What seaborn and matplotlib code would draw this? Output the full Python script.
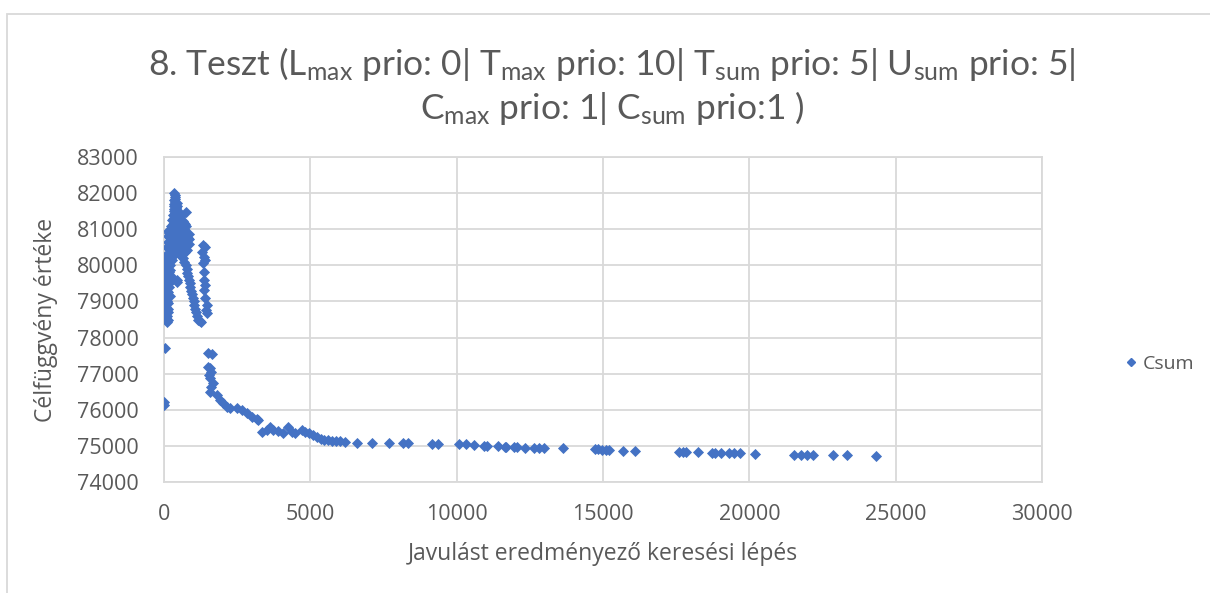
import numpy as np
import pandas as pd
import seaborn as sns
import matplotlib.pyplot as plt
from matplotlib.lines import Line2D

# Csum values (lépés, célfüggvény érték)
# dense start cluster: top spike
spike_x = [352, 360, 340, 380, 350, 400, 330, 420, 370, 300, 450, 350, 280, 500, 400, 250, 550,
           380, 450, 360, 420, 350, 430, 340, 420, 500, 330, 410, 490, 570, 320, 400, 480, 560, 640,
           300, 380, 460, 540, 620, 680, 280, 350, 420, 490, 560, 630, 700, 740, 720, 760]
spike_y = [82000, 81900, 81800, 81750, 81650, 81600, 81550, 81500, 81450, 81400, 81350, 81300, 81250, 81200, 81150, 81100, 81050,
           81960, 81720, 81850, 81620, 81700, 81640, 81500, 81520, 81480, 81400, 81380, 81420, 81360, 81280, 81250, 81300, 81260, 81230,
           81150, 81200, 81130, 81180, 81120, 81160, 81050, 81080, 81020, 81060, 81010, 81040, 81000, 81480, 81150, 81090]

# dense block
block_x = [120, 180, 240, 300, 360, 420, 480, 540, 600, 660, 720, 780, 840,
           150, 210, 270, 330, 390, 450, 510, 570, 630, 690, 750, 810, 870,
           130, 190, 250, 310, 370, 430, 490, 550, 610, 670, 730, 790, 850,
           110, 170, 230, 290, 350, 410, 470, 530, 590, 650, 710, 770,
           200, 260, 320, 380, 440, 500, 560]
block_y = [80950, 80900, 80980, 80920, 80960, 80900, 80950, 80880, 80930, 80870, 80900, 80850, 80880,
           80800, 80750, 80820, 80780, 80740, 80800, 80760, 80720, 80790, 80740, 80700, 80760, 80720,
           80650, 80600, 80680, 80620, 80660, 80600, 80640, 80580, 80620, 80560, 80600, 80550, 80580,
           80500, 80460, 80520, 80440, 80490, 80450, 80420, 80470, 80400, 80430, 80380, 80420,
           80350, 80300, 80380, 80320, 80360, 80330, 80300]

# left column near zero
left_x = [20, 80, 150, 40, 110, 200, 10, 70, 140, 30, 100, 180, 0, 60, 130, 250, 20, 90, 160,
          40, 110, 10, 70, 140, 30, 100, 0, 60, 120, 80, 150, 100, 130, 110, 430, 450,
          220, 280, 190, 240, 170, 210, 150, 60, 20]
left_y = [80250, 80200, 80230, 80100, 80050, 80120, 79950, 79900, 79980, 79800, 79750, 79820, 79650, 79600, 79660, 79700, 79500, 79450, 79520,
          79350, 79300, 79200, 79150, 79250, 79050, 79000, 78900, 78850, 78950, 78750, 78700, 78600, 78500, 78420, 79600, 79550,
          80000, 80150, 79880, 79580, 79400, 79150, 78800, 78550, 78700]

# descending branch
desc_x = [600, 650, 700, 740, 780, 800, 830, 860, 880, 900, 930, 960, 990, 1010, 1040, 1070, 1100, 1130, 1170, 1220, 1280]
desc_y = [80300, 80200, 80100, 80000, 79900, 79800, 79700, 79600, 79500, 79400, 79300, 79200, 79100, 79000, 78900, 78800, 78700, 78600, 78500, 78450, 78430]

# right column around 1300-1500
right_x = [1322, 1401, 1288, 1350, 1401, 1322, 1370, 1350, 1401, 1350, 1401, 1459, 1440, 1481]
right_y = [80563, 80499, 80378, 80240, 80148, 80056, 79825, 79594, 79455, 79317, 79086, 78901, 78763, 78670]

# lone points at the start
lone_x = [24, 0, 10]
lone_y = [77700, 76225, 76130]

# second drop and long tail
tail_x = [1515, 1630, 1500, 1560, 1600, 1540, 1580, 1660, 1620, 1560,
          1800, 1914, 2027, 2142, 2256, 2484, 2655, 2826, 2997, 3168, 3224,
          3340, 3510, 3623, 3737, 3908, 4079, 4250, 4364, 4477,
          4700, 4830, 4960, 5090, 5220, 5350, 5480, 5620, 5750, 5880, 6010, 6180,
          6600, 7090, 7680, 8170, 8340, 9150, 9370, 10070, 10330, 10590, 10920, 11050,
          11400, 11640, 11700, 11960, 12070, 12320, 12640, 12810, 12980, 13630,
          14710, 14840, 14970, 15100, 15210, 15670, 16090, 17590, 17720, 17850, 18250,
          18740, 18840, 19030, 19290, 19490, 19690, 20180, 21520, 21780, 21980, 22170,
          22870, 23350, 24330]
tail_y = [77560, 77540, 77193, 77147, 77055, 76963, 76870, 76732, 76640, 76500,
          76409, 76270, 76180, 76085, 76060, 76040, 75994, 75900, 75810, 75740, 75717,
          75393, 75440, 75532, 75450, 75405, 75367, 75532, 75393, 75367,
          75430, 75380, 75350, 75300, 75240, 75190, 75170, 75150, 75140, 75130, 75130, 75110,
          75080, 75070, 75070, 75070, 75070, 75050, 75050, 75040, 75040, 75020, 75000, 75000,
          74990, 74970, 74970, 74960, 74960, 74950, 74940, 74940, 74930, 74930,
          74920, 74920, 74900, 74880, 74880, 74850, 74850, 74840, 74840, 74840, 74820,
          74810, 74810, 74810, 74800, 74800, 74790, 74780, 74760, 74760, 74760, 74760,
          74750, 74750, 74730]

steps = spike_x + block_x + left_x + desc_x + right_x + lone_x + tail_x
values = spike_y + block_y + left_y + desc_y + right_y + lone_y + tail_y
df = pd.DataFrame({'lepes': steps, 'ertek': values})

sns.set_theme(style='white')
plt.rcParams['font.family'] = ['Open Sans', 'DejaVu Sans']
plt.rcParams['mathtext.fontset'] = 'custom'
plt.rcParams['mathtext.rm'] = 'Lato'
plt.rcParams['mathtext.it'] = 'Lato'

grey = '#595959'
blue = '#4472C4'

fig = plt.figure(figsize=(12.1, 5.93), dpi=100)
ax = fig.add_axes([164 / 1210, 1 - 482 / 593, (1042 - 164) / 1210, (482 - 157) / 593])

sns.scatterplot(data=df, x='lepes', y='ertek', ax=ax, marker='D', s=32,
                color=blue, linewidth=0, legend=False, zorder=3)

ax.set_xlim(0, 30000)
ax.set_ylim(74000, 83000)
ax.set_xticks(range(0, 30001, 5000))
ax.set_yticks(range(74000, 83001, 1000))
ax.grid(True, color='#D9D9D9', linewidth=1.3)
for sp in ax.spines.values():
    sp.set_color('#D9D9D9')
    sp.set_linewidth(1.3)
ax.tick_params(axis='y', length=0, labelsize=15.5, labelcolor=grey, pad=18)
ax.tick_params(axis='x', length=0, labelsize=15.5, labelcolor=grey, pad=16)
ax.set_xlabel('Javulást eredményező keresési lépés', fontsize=16.5, color=grey, labelpad=12)
ax.set_ylabel('Célfüggvény értéke', fontsize=16.5, color=grey, labelpad=14)

title = (r'8. Teszt (L$_{\mathrm{max}}$ prio: 0| T$_{\mathrm{max}}$ prio: 10| T$_{\mathrm{sum}}$ prio: 5| U$_{\mathrm{sum}}$ prio: 5|' + '\n'
         + r'C$_{\mathrm{max}}$ prio: 1| C$_{\mathrm{sum}}$ prio:1 )')
fig.text(612 / 1210, 1 - 86 / 593, title, ha='center', va='center', fontsize=25.5,
         color=grey, linespacing=1.2, family=['Lato', 'DejaVu Sans'])

handle = Line2D([], [], marker='D', color=blue, linestyle='none', markersize=4)
fig.legend([handle], ['Csum'], loc='center left', bbox_to_anchor=(1104 / 1210, 1 - 364 / 593),
           frameon=False, fontsize=14, labelcolor=grey, handletextpad=0.1, handlelength=1)

# chart area border
fig.add_artist(plt.Rectangle((7 / 1210, -0.01), 1.1, 1 - 14 / 593 + 0.01, transform=fig.transFigure,
                             fill=False, edgecolor='#D9D9D9', linewidth=1.3))

fig.savefig('out.png', dpi=100)
